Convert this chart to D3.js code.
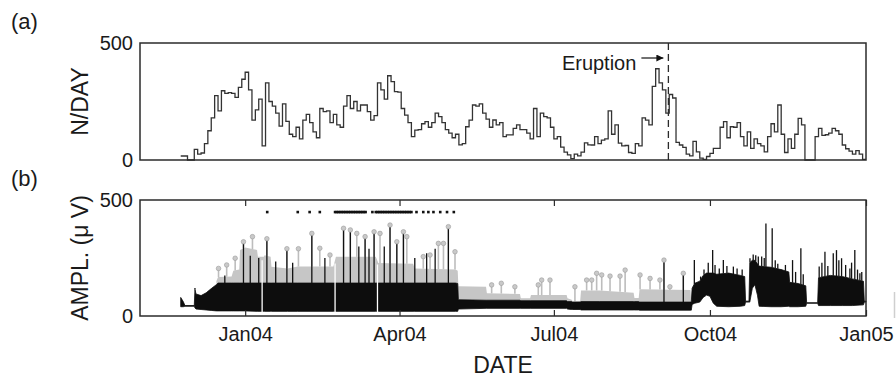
<!DOCTYPE html>
<html>
<head>
<meta charset="utf-8">
<script src="https://cdn.jsdelivr.net/npm/d3@7"></script>
<style>
  body { margin: 0; background: #fff; }
  svg { font-family: "Liberation Sans", Arial, Helvetica, sans-serif; }
</style>
</head>
<body>
<svg width="896" height="378"></svg>
<script>
const width = 896,
      height = 378,
      left = 140,
      right = 866,
      topA = 43,
      bottomA = 160,
      topB = 200,
      bottomB = 316;

// (a) events per day, one value every 2 days from countStart
const countStart = new Date(2003, 10, 24);
const countStep = 2;
const countValues = [
  17, 17, 0, 0, 45, 25, 30, 70, 125, 180,
  275, 210, 296, 285, 288, 285, 268, 310, 345, 375,
  300, 170, 214, 260, 60, 330, 250, 230, 200, 145,
  240, 165, 110, 100, 140, 90, 170, 195, 160, 120,
  95, 220, 207, 210, 160, 195, 150, 140, 230, 275,
  220, 250, 210, 235, 235, 207, 170, 190, 330, 300,
  260, 360, 335, 292, 290, 220, 192, 160, 100, 128,
  130, 155, 164, 140, 160, 200, 185, 160, 130, 115,
  95, 110, 65, 70, 142, 170, 235, 230, 240, 200,
  175, 140, 171, 150, 160, 100, 107, 107, 135, 150,
  130, 130, 115, 90, 220, 100, 200, 185, 180, 140,
  90, 100, 55, 34, 22, 6, 25, 18, 34, 73,
  65, 64, 100, 70, 85, 90, 210, 110, 150, 72,
  60, 62, 32, 28, 70, 60, 180, 170, 150, 315,
  390, 330, 300, 200, 280, 265, 75, 64, 54, 25,
  18, 80, 35, 8, 3, 15, 28, 50, 50, 140,
  164, 95, 142, 140, 160, 100, 60, 120, 50, 90,
  70, 60, 35, 100, 155, 120, 235, 110, 32, 90,
  50, 110, 178, 150, 0, 0, 0, 100, 135, 105,
  108, 115, 135, 125, 110, 64, 48, 38, 25, 40,
  25, 3
];

const eruptionDate = new Date(2004, 8, 6, 12);
const eruptionLabel = 'Eruption';

// (b) amplitude envelope, days counted from 1 Jan 2004
const ampBase = new Date(2004, 0, 1);
const ampDays = [
  -38, -36.5, -35.5, -30, -29.6, -29, -26, -23, -20, -17,
  -16, -8, -7, -3.5, -3, 0, 7, 7.5, 11, 11.5,
  15, 15.5, 25, 31, 52, 53.5, 77, 78.5, 99, 100,
  124, 125.3, 125.7, 142, 142.5, 162, 162.5, 168, 168.5, 189.5,
  190, 192.5, 193, 197.5, 198, 209, 229, 229.5, 232, 232.5,
  262.5, 263, 263.5, 265, 268, 270, 272, 274, 276, 278,
  285, 292, 294.5, 295, 297, 297.5, 299, 300.5, 302, 303,
  310, 316, 320.5, 321, 326, 330.5, 331, 337.5, 338, 345,
  352, 358, 364.5, 365, 366
];
const ampLow = [
  40, 40, 42, 42, 35, 30, 28, 26, 24, 22,
  22, 22, 22, 22, 22, 22, 20, 20, 20, 20,
  20, 20, 20, 20, 20, 20, 20, 20, 20, 20,
  20, 20, 30, 33, 33, 33, 33, 33, 33, 33,
  30, 28, 28, 28, 26, 26, 26, 26, 26, 25,
  25, 25, 50, 55, 60, 80, 90, 85, 55, 42,
  40, 42, 45, 60, 60, 60, 120, 135, 90, 42,
  40, 40, 42, 40, 40, 42, 55, 55, 45, 45,
  45, 45, 48, 60, 60
];
const ampHigh = [
  80, 62, 45, 45, 115, 95, 88, 100, 118, 135,
  142, 142, 142, 142, 142, 142, 142, 142, 142, 142,
  142, 142, 142, 142, 142, 142, 142, 142, 142, 142,
  142, 140, 70, 68, 68, 68, 66, 66, 66, 66,
  62, 62, 60, 60, 62, 62, 62, 62, 62, 60,
  60, 60, 120, 141, 150, 175, 185, 185, 185, 180,
  185, 175, 170, 64, 64, 230, 240, 240, 225, 215,
  210, 200, 190, 145, 140, 130, 57, 57, 165, 175,
  170, 160, 150, 64, 64
];
const ampGray = [
  null, null, null, null, null, null, null, null, null, 150,
  168, 170, 195, 200, 285, 295, 285, 255, 255, 262,
  255, 212, 205, 213, 213, 255, 255, 228, 225, 205,
  200, 195, 128, 126, 98, 95, 76, 76, 90, 90,
  76, 70, 62, 65, 110, 110, 100, 78, 78, 115,
  112, 60, null, null, null, null, null, null, null, null,
  null, null, null, null, null, null, null, null, null, null,
  null, null, null, null, null, null, null, null, null, null,
  null, null, null, null, null
];
const gapDays = [10, 53, 78];

const grayPeakDays = [
  -15.7, -10.9, -5.9, -1, 4.3, 12.8, 24.6, 31.4, 39.3, 44,
  50, 58, 62, 65.8, 70.7, 76, 79.5, 85.4, 89.4, 93.3,
  95.3, 105, 109, 113.9, 116.9, 119.8, 123.7, 145.3, 151, 159,
  172.8, 174.8, 179.7, 194.4, 201.3, 204.3, 207.2, 210.2, 215.1, 221,
  224, 232.8, 238.7, 244.5, 246.9, 250.4, 258.3
];
const grayPeakValues = [
  205, 220, 249, 320, 342, 333, 290, 290, 356, 292,
  263, 378, 371, 356, 342, 363, 356, 392, 320, 363,
  342, 256, 263, 313, 313, 385, 277, 134, 141, 126,
  134, 155, 155, 126, 155, 155, 184, 177, 172, 172,
  198, 177, 162, 155, 241, 126, 184
];

const blackPeakDays = [
  -29.6, -12, -1, 3, 8, 12.8, 18, 24.6, 28, 39.3,
  47, 58, 62, 67, 70.7, 73, 76, 82, 85.4, 89.4,
  93.3, 100, 107, 112, 119.8, 246.9, 258.3, 264.8, 268.5, 270.5,
  273, 275.6, 277, 279.5, 281.9, 284, 287.8, 290, 293, 297.6,
  299.5, 301, 302.5, 304.5, 306, 307, 310.7, 312.5, 314, 316.2,
  318.5, 322.7, 324.5, 327.6, 329, 338.4, 340, 341.8, 343.5, 346.7,
  348.6, 350, 351.6, 354, 356.5, 357.5, 359.4, 361, 362.4, 363.5
];
const blackPeakValues = [
  121, 175, 320, 260, 250, 333, 235, 290, 230, 356,
  250, 378, 371, 300, 342, 290, 363, 300, 392, 320,
  363, 250, 270, 290, 385, 241, 184, 241, 170, 200,
  230, 284, 220, 205, 241, 215, 213, 205, 200, 249,
  265, 262, 256, 256, 250, 399, 378, 240, 225, 198,
  220, 241, 190, 292, 180, 213, 230, 277, 215, 270,
  284, 240, 249, 220, 205, 230, 284, 200, 184, 190
];

// off-scale readings plotted along the top
const clipDays = [
  13, 31, 38, 44, 53, 54, 55, 56, 57, 58, 59, 60, 61, 62, 63, 64, 65, 66, 67, 68, 69, 70, 71,
  75, 77, 78, 79, 80, 81, 82, 83, 84, 85, 86, 87, 88, 89, 90, 91, 92, 93, 94, 95, 96, 97, 98,
  101, 105, 108, 111, 115, 119, 123
];
const clipLevel = 448;

const xTicks = [new Date(2004, 0, 1), new Date(2004, 3, 1), new Date(2004, 6, 1), new Date(2004, 9, 1), new Date(2005, 0, 1)];
const xTickLabels = ['Jan04', 'Apr04', 'Jul04', 'Oct04', 'Jan05'];
const yTicks = [0, 500];

const dayDate = (d) => new Date(ampBase.getTime() + d * 864e5);

const x = d3.scaleTime()
            .domain([new Date(2003, 9, 31), new Date(2005, 0, 1)])
            .range([left, right]);

const yA = d3.scaleLinear().domain([0, 500]).range([bottomA, topA]);
const yB = d3.scaleLinear().domain([0, 500]).range([bottomB, topB]);

const svg = d3.select('svg')
    .attr('width', width)
    .attr('height', height);

const ink = '#2b2b2b';

// ---------- panel (a)
const counts = countValues.map((v, i) => ({ date: d3.timeDay.offset(countStart, i * countStep), v }));
counts.push({ date: d3.timeDay.offset(countStart, countValues.length * countStep), v: countValues[countValues.length - 1] });

svg.append('path')
    .datum(counts)
    .attr('fill', 'none')
    .attr('stroke', '#333')
    .attr('stroke-width', 1.3)
    .attr('d', d3.line()
      .curve(d3.curveStepAfter)
      .x((d) => x(d.date))
      .y((d) => yA(d.v)));

const ex = x(eruptionDate);
svg.append('line')
    .attr('x1', ex).attr('x2', ex)
    .attr('y1', topA).attr('y2', bottomA)
    .attr('stroke', ink)
    .attr('stroke-width', 1.3)
    .attr('stroke-dasharray', '7,4');

svg.append('defs').append('marker')
    .attr('id', 'head')
    .attr('viewBox', '0 0 10 10')
    .attr('refX', 10).attr('refY', 5)
    .attr('markerWidth', 7).attr('markerHeight', 7)
    .attr('markerUnits', 'userSpaceOnUse')
    .attr('orient', 'auto')
  .append('path')
    .attr('d', 'M0,0 L10,5 L0,10 z')
    .attr('fill', '#111');

svg.append('line')
    .attr('x1', ex - 27).attr('x2', ex - 5)
    .attr('y1', 58).attr('y2', 58)
    .attr('stroke', '#111')
    .attr('stroke-width', 1.2)
    .attr('marker-end', 'url(#head)');

svg.append('text')
    .attr('x', ex - 32)
    .attr('y', 70)
    .attr('text-anchor', 'end')
    .attr('font-size', 20)
    .attr('fill', '#1a1a1a')
    .text(eruptionLabel);

// ---------- panel (b)
const amp = ampDays.map((d, i) => ({ date: dayDate(d), low: ampLow[i], high: ampHigh[i], gray: ampGray[i] }));
const grayRows = amp.filter((d) => d.gray !== null);

const highAt = d3.scaleLinear().domain(ampDays).range(ampHigh);
const grayAt = d3.scaleLinear()
                 .domain(ampDays.filter((d, i) => ampGray[i] !== null))
                 .range(ampGray.filter((g) => g !== null));
const lowAt = d3.scaleLinear().domain(ampDays).range(ampLow);

svg.append('path')
    .datum(grayRows)
    .attr('fill', '#c6c6c6')
    .attr('d', d3.area()
      .x((d) => x(d.date))
      .y0((d) => yB(d.high))
      .y1((d) => yB(d.gray)));

svg.selectAll('.gray-peak')
  .data(grayPeakDays)
  .enter()
  .append('line')
    .classed('gray-peak', true)
    .attr('x1', (d) => x(dayDate(d)))
    .attr('x2', (d) => x(dayDate(d)))
    .attr('y1', (d) => yB(grayAt(d)))
    .attr('y2', (d, i) => yB(grayPeakValues[i]))
    .attr('stroke', '#bdbdbd')
    .attr('stroke-width', 1.6);

svg.append('path')
    .datum(amp)
    .attr('fill', '#0d0d0d')
    .attr('stroke', '#0d0d0d')
    .attr('stroke-width', 0.8)
    .attr('d', d3.area()
      .x((d) => x(d.date))
      .y0((d) => yB(d.low))
      .y1((d) => yB(d.high)));

svg.selectAll('.black-peak')
  .data(blackPeakDays)
  .enter()
  .append('line')
    .classed('black-peak', true)
    .attr('x1', (d) => x(dayDate(d)))
    .attr('x2', (d) => x(dayDate(d)))
    .attr('y1', (d) => yB(highAt(d)))
    .attr('y2', (d, i) => yB(blackPeakValues[i]))
    .attr('stroke', '#111')
    .attr('stroke-width', 1.3);

svg.selectAll('.gray-dot')
  .data(grayPeakDays)
  .enter()
  .append('circle')
    .classed('gray-dot', true)
    .attr('cx', (d) => x(dayDate(d)))
    .attr('cy', (d, i) => yB(grayPeakValues[i]))
    .attr('r', 2.3)
    .attr('fill', '#c9c9c9')
    .attr('stroke', '#9a9a9a')
    .attr('stroke-width', 0.6);

svg.selectAll('.gap')
  .data(gapDays)
  .enter()
  .append('line')
    .classed('gap', true)
    .attr('x1', (d) => x(dayDate(d)))
    .attr('x2', (d) => x(dayDate(d)))
    .attr('y1', (d) => yB(lowAt(d) - 4))
    .attr('y2', (d) => yB(grayAt(d) - 15))
    .attr('stroke', '#fff')
    .attr('stroke-width', 1.3);

svg.selectAll('.clip')
  .data(clipDays)
  .enter()
  .append('rect')
    .classed('clip', true)
    .attr('x', (d) => x(dayDate(d)) - 1.3)
    .attr('y', yB(clipLevel) - 1.3)
    .attr('width', 2.6)
    .attr('height', 2.6)
    .attr('fill', '#111');

// ---------- axes and frames
svg.append('g')
    .attr('transform', `translate(0, ${bottomB})`)
    .call(d3.axisBottom(x)
      .tickValues(xTicks)
      .tickFormat((d, i) => xTickLabels[i])
      .tickSizeInner(-6)
      .tickSizeOuter(0)
      .tickPadding(11));

svg.append('g')
    .attr('transform', `translate(0, ${topB})`)
    .call(d3.axisTop(x)
      .tickValues(xTicks)
      .tickFormat('')
      .tickSizeInner(-6)
      .tickSizeOuter(0));

[[yA, 'N/DAY', (topA + bottomA) / 2], [yB, 'AMPL. (\u03bc V)', (topB + bottomB) / 2]].forEach(([scale, label, mid]) => {
  svg.append('g')
      .attr('transform', `translate(${left}, 0)`)
      .call(d3.axisLeft(scale).tickValues(yTicks).tickSize(0).tickPadding(7));

  svg.append('text')
      .attr('transform', `translate(80, ${mid}) rotate(-90)`)
      .attr('text-anchor', 'middle')
      .attr('dy', '0.36em')
      .attr('font-size', 23)
      .attr('fill', '#1a1a1a')
      .text(label);
});

svg.selectAll('.domain').remove();
svg.selectAll('.tick line').attr('stroke', ink).attr('stroke-width', 1.2);
svg.selectAll('.tick text')
    .attr('font-size', 20)
    .attr('font-family', '"Liberation Sans", Arial, Helvetica, sans-serif')
    .attr('fill', '#1a1a1a');

[[topA, bottomA], [topB, bottomB]].forEach(([t, b]) => {
  svg.append('rect')
      .attr('x', left)
      .attr('y', t)
      .attr('width', right - left)
      .attr('height', b - t)
      .attr('fill', 'none')
      .attr('stroke', ink)
      .attr('stroke-width', 1.5);
});

svg.append('text')
    .attr('x', (left + right) / 2)
    .attr('y', 373)
    .attr('text-anchor', 'middle')
    .attr('font-size', 23)
    .attr('fill', '#1a1a1a')
    .text('DATE');

svg.append('text').attr('x', 11).attr('y', 29).attr('font-size', 22).attr('fill', '#1a1a1a').text('(a)');
svg.append('text').attr('x', 11).attr('y', 186).attr('font-size', 22).attr('fill', '#1a1a1a').text('(b)');

// stray edge of the neighbouring panel
svg.append('line')
    .attr('x1', 894.5).attr('x2', 894.5)
    .attr('y1', 292).attr('y2', 318)
    .attr('stroke', '#cfcfcf')
    .attr('stroke-width', 1.5);
</script>
</body>
</html>
